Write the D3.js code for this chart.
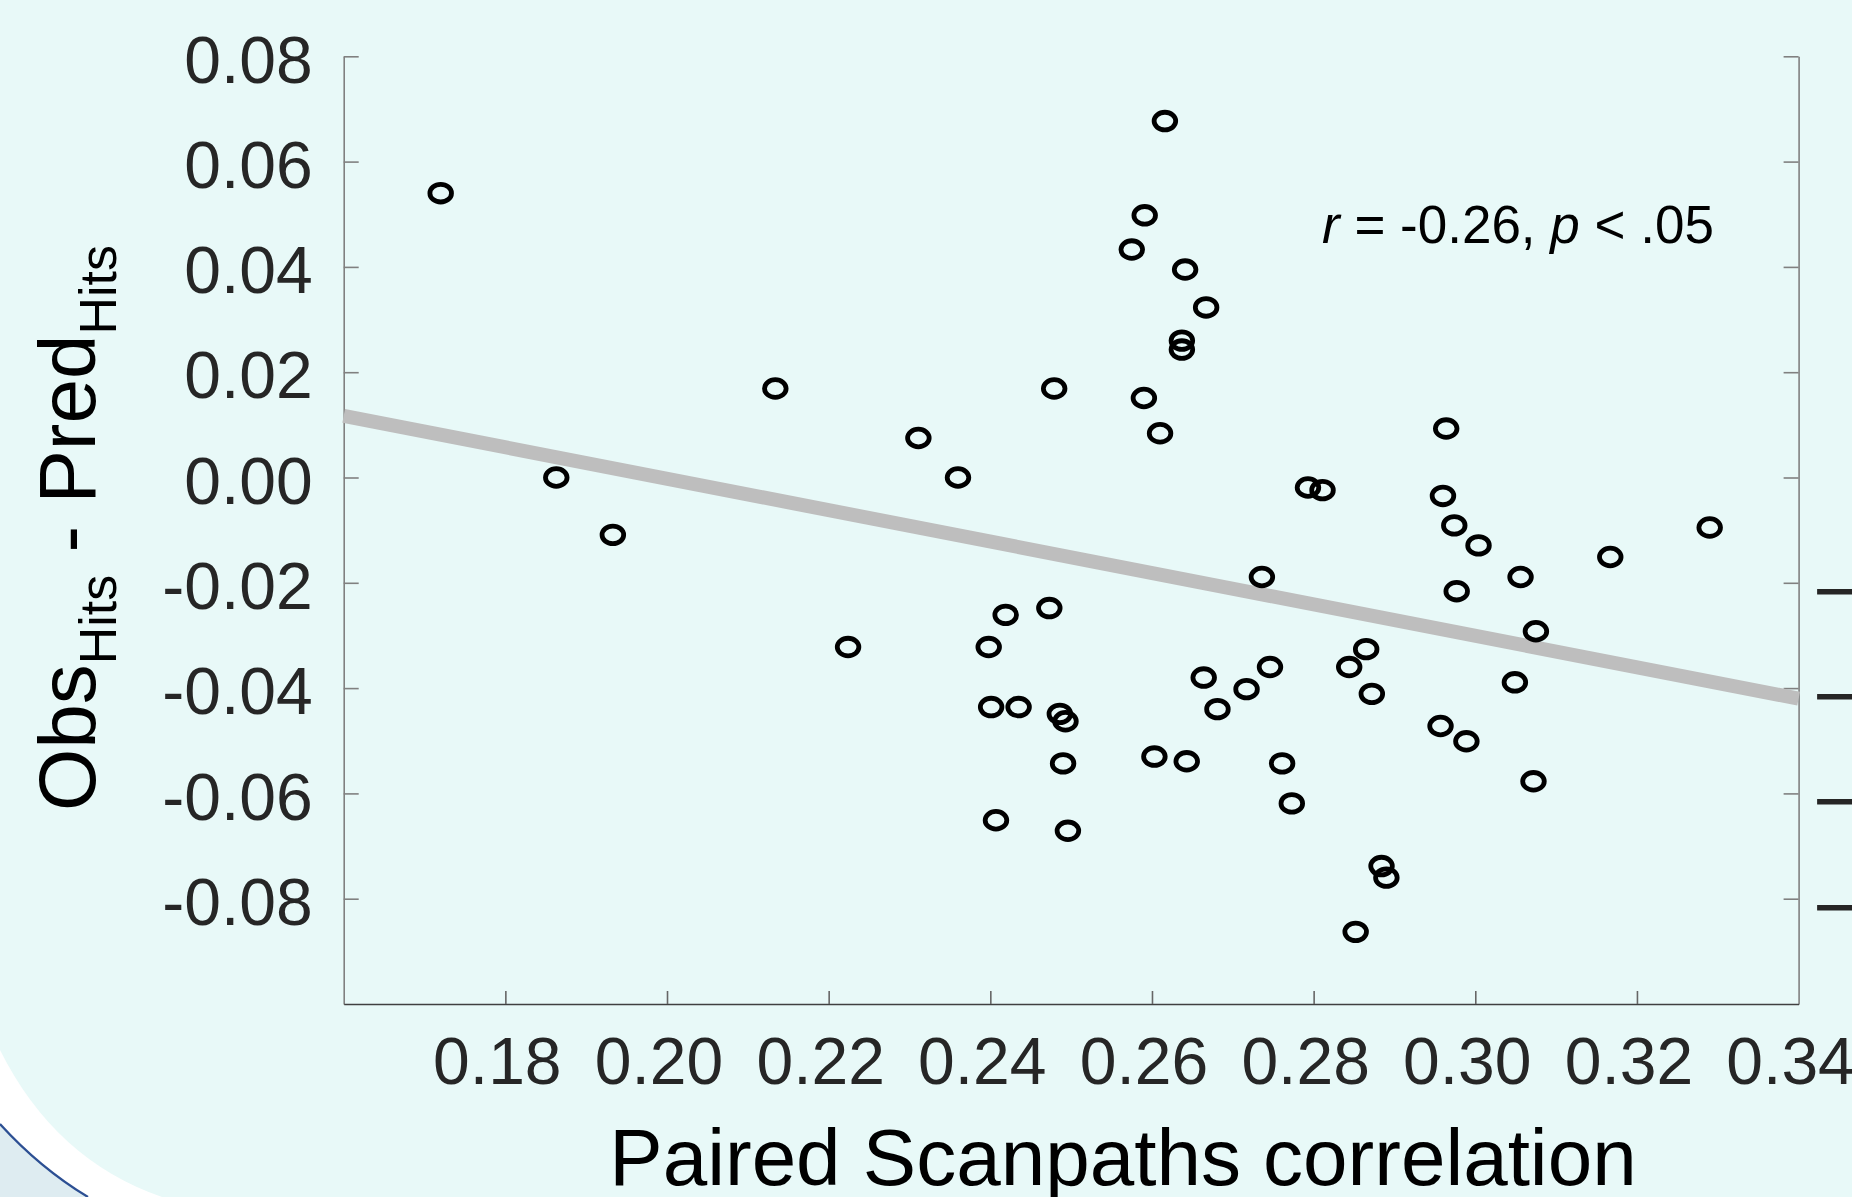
<!DOCTYPE html>
<html>
<head>
<meta charset="utf-8">
<script src="https://cdn.jsdelivr.net/npm/d3@7"></script>
<style>
  html, body { margin: 0; padding: 0; overflow: hidden; background: #e8f9f8; }
  svg { display: block; }
  text { font-family: "Liberation Sans", Arial, Helvetica, sans-serif; }
</style>
</head>
<body>
<svg id="chart" width="1852" height="1197"></svg>
<script>
// paired scanpath correlation per subject
const scanCorr = [
  0.1720, 0.1863, 0.1933, 0.2134, 0.2224, 0.2311, 0.2360, 0.2398, 0.2401, 0.2407,
  0.2419, 0.2435, 0.2473, 0.2479, 0.2486, 0.2493, 0.2490, 0.2496, 0.2575, 0.2591,
  0.2590, 0.2603, 0.2610, 0.2616, 0.2637, 0.2637, 0.2641, 0.2643, 0.2664, 0.2667,
  0.2681, 0.2717, 0.2736, 0.2746, 0.2761, 0.2773, 0.2793, 0.2811, 0.2844, 0.2865,
  0.2872, 0.2852, 0.2884, 0.2890, 0.2957, 0.2960, 0.2964, 0.2974, 0.2977, 0.2989,
  0.3004, 0.3049, 0.3056, 0.3072, 0.3075, 0.3167, 0.3290
];
// observed minus predicted hits
const hitsDiff = [
  0.0540, 0.0000, -0.0109, 0.0169, -0.0322, 0.0075, 0.0000, -0.0322, -0.0436, -0.0651,
  -0.0261, -0.0436, -0.0248, 0.0169, -0.0449, -0.0463, -0.0543, -0.0671, 0.0433, 0.0498,
  0.0151, -0.0530, 0.0084, 0.0677, 0.0260, 0.0243, 0.0395, -0.0539, -0.0380, 0.0323,
  -0.0440, -0.0402, -0.0189, -0.0360, -0.0543, -0.0619, -0.0019, -0.0024, -0.0360, -0.0326,
  -0.0411, -0.0863, -0.0738, -0.0760, -0.0472, -0.0035, 0.0093, -0.0091, -0.0216, -0.0501,
  -0.0129, -0.0389, -0.0189, -0.0577, -0.0292, -0.0151, -0.0095
];
// fitted line, read at the two ends of the axis
const fitX = [0.16, 0.34];
const fitY = [0.0117, -0.0420];

const xTicks = [0.18, 0.20, 0.22, 0.24, 0.26, 0.28, 0.30, 0.32];
const xLabelVals = [0.18, 0.20, 0.22, 0.24, 0.26, 0.28, 0.30, 0.32, 0.34];
const xTickLabels = ['0.18', '0.20', '0.22', '0.24', '0.26', '0.28', '0.30', '0.32', '0.34'];
const yTicks = [0.08, 0.06, 0.04, 0.02, 0.00, -0.02, -0.04, -0.06, -0.08];
const yTickLabels = ['0.08', '0.06', '0.04', '0.02', '0.00', '-0.02', '-0.04', '-0.06', '-0.08'];
// next panel on the slide, only the start of its labels shows
const nextTickLabels = ['0.08', '0.06', '0.04', '0.02', '0.00', '\u20130.02', '\u20130.04', '\u20130.06', '\u20130.08'];

const W = 1852, H = 1197;
const plotL = 343.7, plotR = 1798.6, plotT = 56.3, plotB = 1004;

const svg = d3.select('#chart');

const x = d3.scaleLinear().domain([0.16, 0.34]).range([plotL, plotR]);
const y = d3.scaleLinear().domain([-0.10, 0.08]).range([plotB, plotT]);

// background + the rounded corner of the slide at bottom-left
svg.append('rect').attr('width', W).attr('height', H).attr('fill', '#e8f9f8');
const band = d3.path();
band.moveTo(0, 1050);
band.quadraticCurveTo(55, 1160, 162, H);
band.lineTo(0, H);
band.closePath();
svg.append('path').attr('d', band.toString()).attr('fill', '#ffffff');
const corner = d3.path();
corner.moveTo(0, 1124);
corner.quadraticCurveTo(40, 1168, 88, H);
corner.lineTo(0, H);
corner.closePath();
svg.append('path').attr('d', corner.toString()).attr('fill', '#deecf1');
const edge = d3.path();
edge.moveTo(0, 1124);
edge.quadraticCurveTo(40, 1168, 88, H);
svg.append('path').attr('d', edge.toString()).attr('fill', 'none')
  .attr('stroke', '#2c4f93').attr('stroke-width', 2.2);

// axes
const styleAxis = (g, col) => {
  g.attr('font-size', null).attr('font-family', null);
  g.select('.domain').attr('stroke', col).attr('stroke-width', 1.6);
  g.selectAll('.tick line').attr('stroke', col).attr('stroke-width', 1.6);
  g.selectAll('.tick text').attr('fill', '#262626').attr('font-size', 66);
};

const gy = svg.append('g')
  .attr('transform', `translate(${plotL},0)`)
  .call(d3.axisLeft(y).tickValues(yTicks).tickSize(-15).tickSizeOuter(0)
    .tickPadding(31).tickFormat((d, i) => yTickLabels[i]));
styleAxis(gy, '#808080');
gy.selectAll('.tick text').attr('dy', '0.39em');

const gr = svg.append('g')
  .attr('transform', `translate(${plotR},0)`)
  .call(d3.axisRight(y).tickValues(yTicks).tickSize(-15).tickSizeOuter(0).tickFormat(''));
styleAxis(gr, '#808080');

const gx = svg.append('g')
  .attr('transform', `translate(0,${plotB})`)
  .call(d3.axisBottom(x).tickValues(xTicks).tickSize(-13).tickSizeOuter(0).tickFormat(''));
styleAxis(gx, '#404040');
gx.selectAll('.tick line').attr('stroke', '#666');

svg.append('g').selectAll('text')
  .data(xLabelVals)
  .join('text')
  .attr('x', d => x(d) - 8)
  .attr('y', 1084)
  .attr('text-anchor', 'middle')
  .attr('font-size', 66)
  .attr('fill', '#262626')
  .text((d, i) => xTickLabels[i]);

// labels of the neighbouring panel, cut by the page edge
svg.append('g').selectAll('text')
  .data(yTicks)
  .join('text')
  .attr('x', 1983)
  .attr('y', d => y(d) + 26)
  .attr('text-anchor', 'end')
  .attr('font-size', 66)
  .attr('fill', '#262626')
  .attr('stroke', '#262626')
  .attr('stroke-width', 1.2)
  .text((d, i) => nextTickLabels[i]);

// regression line
const line = d3.line().x(d => x(d[0])).y(d => y(d[1]));
svg.append('path')
  .datum(d3.zip(fitX, fitY))
  .attr('d', line)
  .attr('fill', 'none')
  .attr('stroke', '#bebebe')
  .attr('stroke-width', 14);

// points
svg.append('g').selectAll('ellipse')
  .data(d3.zip(scanCorr, hitsDiff))
  .join('ellipse')
  .attr('cx', d => x(d[0]))
  .attr('cy', d => y(d[1]))
  .attr('rx', 10.8)
  .attr('ry', 8.8)
  .attr('fill', 'none')
  .attr('stroke', '#000')
  .attr('stroke-width', 4.8);

// stats annotation
const note = svg.append('text')
  .attr('x', 1322).attr('y', 243)
  .attr('font-size', 53).attr('fill', '#000');
note.append('tspan').attr('font-style', 'italic').text('r');
note.append('tspan').text(' = -0.26, ');
note.append('tspan').attr('font-style', 'italic').text('p');
note.append('tspan').text(' < .05');

// axis titles
svg.append('text')
  .attr('x', 1123).attr('y', 1185)
  .attr('text-anchor', 'middle')
  .attr('font-size', 80).attr('fill', '#000')
  .text('Paired Scanpaths correlation');

const yt = svg.append('text')
  .attr('transform', 'translate(95,528) rotate(-90)')
  .attr('text-anchor', 'middle')
  .attr('font-size', 80).attr('fill', '#000');
yt.append('tspan').text('Obs');
yt.append('tspan').attr('font-size', 52).attr('dy', 21).text('Hits');
yt.append('tspan').attr('dy', -21).text(' - Pred');
yt.append('tspan').attr('font-size', 52).attr('dy', 21).text('Hits');
</script>
</body>
</html>
